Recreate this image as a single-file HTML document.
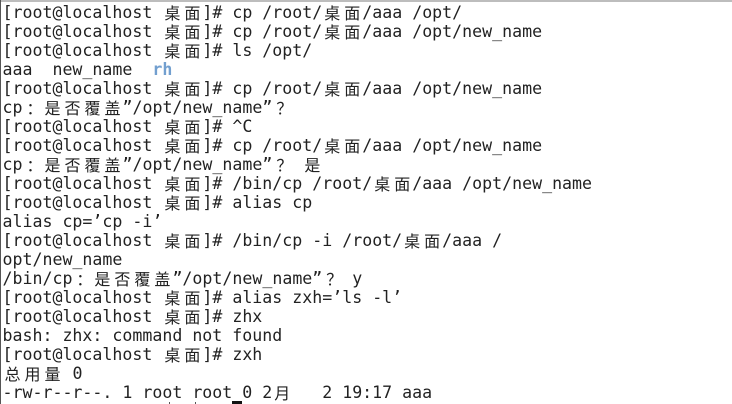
<!DOCTYPE html>
<html><head><meta charset="utf-8"><style>
html,body{margin:0;padding:0;background:#fff}
#p{position:relative;width:732px;height:404px;overflow:hidden;background:#fff}
.l{position:absolute;left:2.5px;height:19px;line-height:19px;white-space:pre;font-family:"DejaVu Sans Mono","Liberation Mono",monospace;font-size:16.6px;color:#222}
.c{display:inline-block;width:20px;text-align:center;font-family:"WenQuanYi Zen Hei","Noto Sans CJK SC",sans-serif;font-size:16px;line-height:19px;height:19px;vertical-align:top}
.q{position:relative;left:2px}
.b{color:#729fcf;font-weight:bold}
.r{position:absolute}
</style></head><body><div id="p">
<div class="r" style="left:0;top:0;width:732px;height:2px;background:#bdbdbd"></div>
<div class="r" style="left:0;top:0;width:1px;height:404px;background:#555"></div>
<div class="l" style="top:3px">[root@localhost <span class="c">桌</span><span class="c">面</span>]# cp /root/<span class="c">桌</span><span class="c">面</span>/aaa /opt/</div>
<div class="l" style="top:22px">[root@localhost <span class="c">桌</span><span class="c">面</span>]# cp /root/<span class="c">桌</span><span class="c">面</span>/aaa /opt/new_name</div>
<div class="l" style="top:41px">[root@localhost <span class="c">桌</span><span class="c">面</span>]# ls /opt/</div>
<div class="l" style="top:60px">aaa  new_name  <span class="b">rh</span></div>
<div class="l" style="top:79px">[root@localhost <span class="c">桌</span><span class="c">面</span>]# cp /root/<span class="c">桌</span><span class="c">面</span>/aaa /opt/new_name</div>
<div class="l" style="top:98px">cp<span class="c q">：</span><span class="c">是</span><span class="c">否</span><span class="c">覆</span><span class="c">盖</span>”/opt/new_name”<span class="c q">？</span></div>
<div class="l" style="top:117px">[root@localhost <span class="c">桌</span><span class="c">面</span>]# ^C</div>
<div class="l" style="top:136px">[root@localhost <span class="c">桌</span><span class="c">面</span>]# cp /root/<span class="c">桌</span><span class="c">面</span>/aaa /opt/new_name</div>
<div class="l" style="top:155px">cp<span class="c q">：</span><span class="c">是</span><span class="c">否</span><span class="c">覆</span><span class="c">盖</span>”/opt/new_name”<span class="c q">？</span> <span class="c">是</span></div>
<div class="l" style="top:174px">[root@localhost <span class="c">桌</span><span class="c">面</span>]# /bin/cp /root/<span class="c">桌</span><span class="c">面</span>/aaa /opt/new_name</div>
<div class="l" style="top:193px">[root@localhost <span class="c">桌</span><span class="c">面</span>]# alias cp</div>
<div class="l" style="top:212px">alias cp=’cp -i’</div>
<div class="l" style="top:231px">[root@localhost <span class="c">桌</span><span class="c">面</span>]# /bin/cp -i /root/<span class="c">桌</span><span class="c">面</span>/aaa /</div>
<div class="l" style="top:250px">opt/new_name</div>
<div class="l" style="top:269px">/bin/cp<span class="c q">：</span><span class="c">是</span><span class="c">否</span><span class="c">覆</span><span class="c">盖</span>”/opt/new_name”<span class="c q">？</span> y</div>
<div class="l" style="top:288px">[root@localhost <span class="c">桌</span><span class="c">面</span>]# alias zxh=’ls -l’</div>
<div class="l" style="top:307px">[root@localhost <span class="c">桌</span><span class="c">面</span>]# zhx</div>
<div class="l" style="top:326px">bash: zhx: command not found</div>
<div class="l" style="top:345px">[root@localhost <span class="c">桌</span><span class="c">面</span>]# zxh</div>
<div class="l" style="top:364px"><span class="c">总</span><span class="c">用</span><span class="c">量</span> 0</div>
<div class="l" style="top:383px">-rw-r--r--. 1 root root 0 2<span class="c">月</span>   2 19:17 aaa</div>
<div class="r" style="left:232px;top:401px;width:10px;height:3px;background:#111"></div>
<div class="r" style="left:169px;top:402px;width:1px;height:2px;background:#555"></div>
<div class="r" style="left:195px;top:402px;width:1px;height:2px;background:#555"></div>
</div></body></html>
